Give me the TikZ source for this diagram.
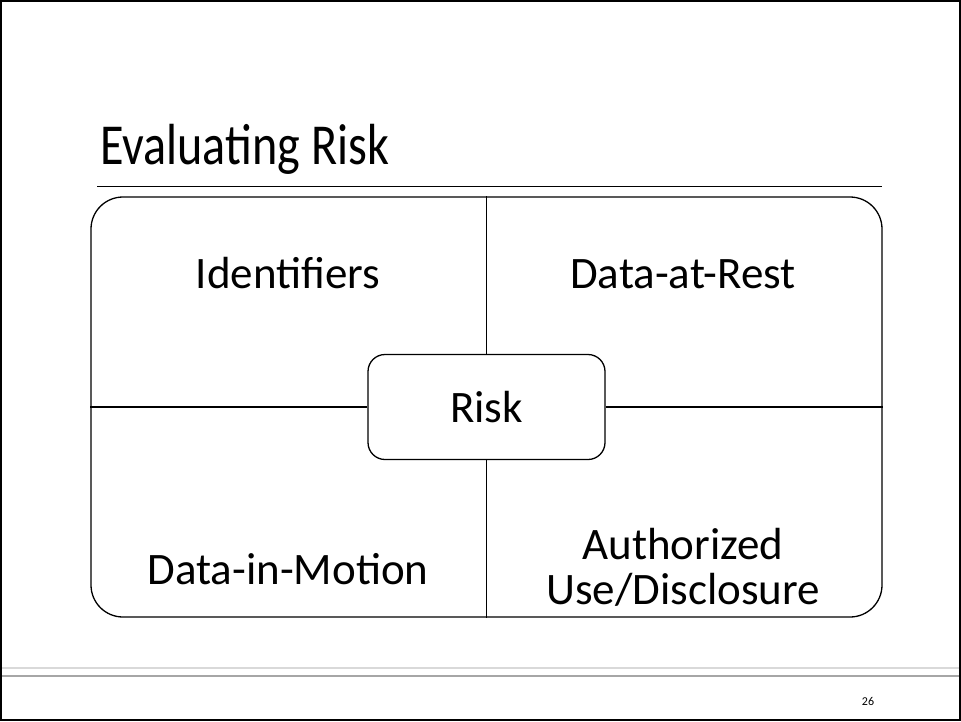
\documentclass[tikz,border=0pt]{standalone}
\usepackage{fontspec}
\setmainfont{Carlito}
\definecolor{footlight}{HTML}{D9D9D9}
\definecolor{footdark}{HTML}{A6A6A6}

\begin{document}
\begin{tikzpicture}[x=1pt,y=-1pt,
    cell/.style={font=\fontsize{45}{45}\selectfont,align=center,inner sep=0},
    box/.style={draw,line width=1.3pt,rounded corners=#1}]
    \useasboundingbox (0,0) rectangle (961,721);
    \draw[line width=2pt] (1,1) rectangle (960,720); % slide border
    \node[anchor=base west,inner sep=0,font=\fontsize{58}{70}\selectfont] (title) at (100,164) {\scalebox{0.83}[1]{Evaluating Risk}};
    \coordinate (ul) at (97,186);
    \coordinate (ur) at (882,186);
    \draw[line width=1pt] (ul) -- (ur);
    \node[box=32pt,minimum width=791pt,minimum height=420pt] (frame) at (486.5,407) {};
    \node[box=17pt,fill=white,minimum width=237pt,minimum height=105pt,cell] (risk) at (frame.center) {Risk};
    \draw[line width=1.2pt] (frame.north) -- (risk.north)
        (risk.south) -- (frame.south)
        (frame.west) -- (risk.west)
        (risk.east) -- (frame.east);
    \node[cell,anchor=base] (ident) at (288,288) {Identifiers};
    \node[cell,anchor=base] (rest) at (683,288) {Data-at-Rest};
    \node[cell,anchor=base] (motion) at (288,584) {Data-in-Motion};
    \node[cell,anchor=base] (auth) at (683,604) {Authorized\\Use/Disclosure};
    % footer
    \draw[footlight,line width=1.2pt] (2,668) -- (959,668);
    \draw[footdark,line width=1.5pt] (2,676) -- (959,676);
    \node[font=\fontsize{12}{14}\selectfont,inner sep=0] (page) at (868,701) {26};
\end{tikzpicture}
\end{document}
